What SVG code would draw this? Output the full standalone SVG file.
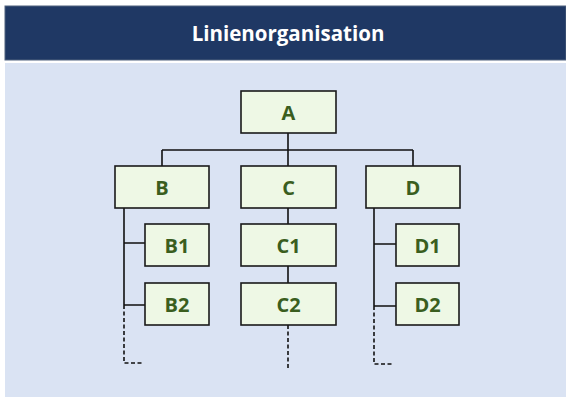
<svg xmlns="http://www.w3.org/2000/svg" width="566" height="407" viewBox="0 0 566 407">
<style>
.box{fill:#EEF8E5;stroke:#1a1a1a;stroke-width:1.6}
.lbl{font-family:"Open Sans","Liberation Sans",sans-serif;font-weight:bold;font-size:20px;fill:#3A5E1E;text-anchor:middle}
.ln{fill:none;stroke:#111;stroke-width:1.6}
.dash{fill:none;stroke:#111;stroke-width:1.6;stroke-dasharray:4 2.5}
</style>
<rect x="0" y="0" width="566" height="407" fill="#ffffff"/>
<rect x="5" y="6" width="561" height="54" fill="#1F3864" stroke="#51627f" stroke-width="1"/>
<rect x="5" y="63" width="561" height="334" fill="#DAE3F3"/>
<text x="288" y="41" font-family="Open Sans, Liberation Sans, sans-serif" font-weight="bold" font-size="20.5" fill="#ffffff" text-anchor="middle">Linienorganisation</text>
<g id="connectors">
<path class="ln" d="M288,133 V166 M162,150 H413 M162,150 V166 M413,150 V166"/>
<path class="ln" d="M124,208 V305 M124,243 H145 M124,305 H145"/>
<path class="dash" d="M124,305 V363 H143"/>
<path class="ln" d="M288,208 V224 M288,266 V283"/>
<path class="dash" d="M288,325 V368"/>
<path class="ln" d="M374,208 V306 M374,244 H396 M374,306 H396"/>
<path class="dash" d="M374,306 V364 H393"/>
</g>
<g id="A"><rect class="box" x="241" y="91" width="95" height="42"/><text class="lbl" x="288.5" y="119.5">A</text></g>
<g id="B"><rect class="box" x="115" y="166" width="94" height="42"/><text class="lbl" x="162" y="194.5">B</text></g>
<g id="C"><rect class="box" x="241" y="166" width="95" height="42"/><text class="lbl" x="288.5" y="194.5">C</text></g>
<g id="D"><rect class="box" x="366" y="166" width="94" height="42"/><text class="lbl" x="413" y="194.5">D</text></g>
<g id="B1"><rect class="box" x="145" y="224" width="64" height="42"/><text class="lbl" x="177" y="252.5">B1</text></g>
<g id="B2"><rect class="box" x="145" y="283" width="64" height="42"/><text class="lbl" x="177" y="311.5">B2</text></g>
<g id="C1"><rect class="box" x="241" y="224" width="95" height="42"/><text class="lbl" x="288.5" y="252.5">C1</text></g>
<g id="C2"><rect class="box" x="241" y="283" width="95" height="42"/><text class="lbl" x="288.5" y="311.5">C2</text></g>
<g id="D1"><rect class="box" x="396" y="224" width="63" height="42"/><text class="lbl" x="427.5" y="252.5">D1</text></g>
<g id="D2"><rect class="box" x="396" y="283" width="63" height="42"/><text class="lbl" x="427.5" y="311.5">D2</text></g>
</svg>
